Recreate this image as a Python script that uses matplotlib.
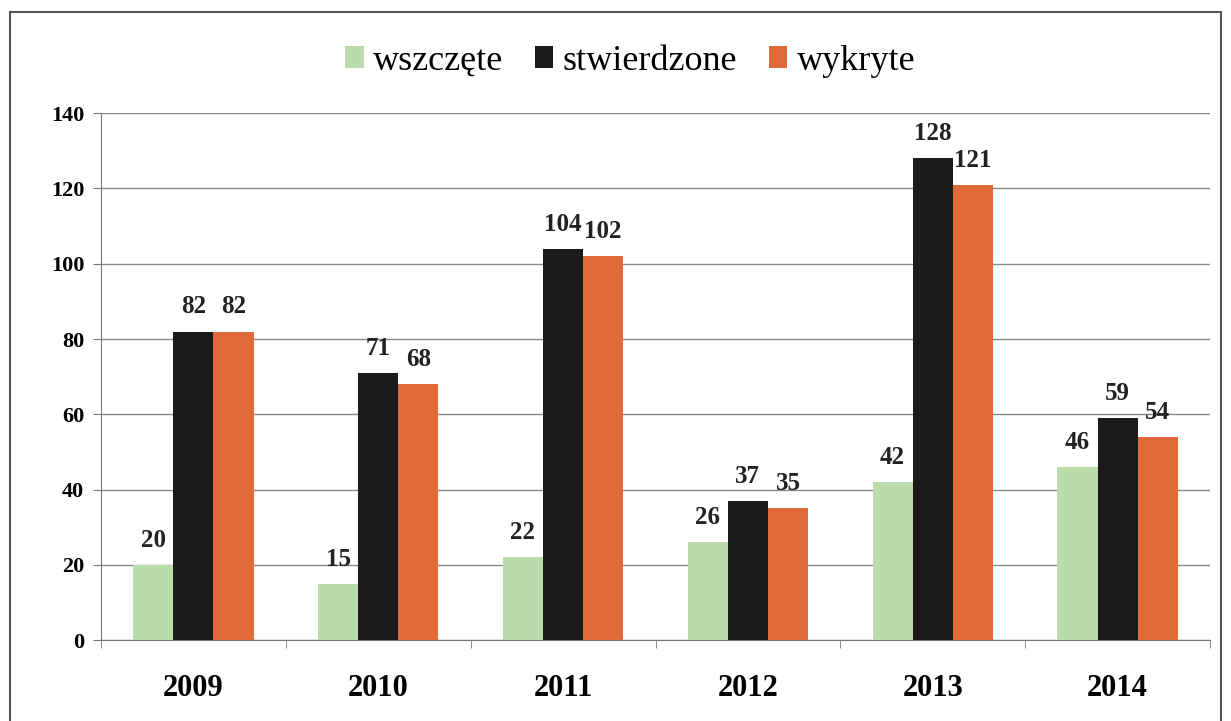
from matplotlib import pyplot as plt
from matplotlib.patches import Rectangle
import numpy as np

lata = ['2009', '2010', '2011', '2012', '2013', '2014']
wszczete = [20, 15, 22, 26, 42, 46]
stwierdzone = [82, 71, 104, 37, 128, 59]
wykryte = [82, 68, 102, 35, 121, 54]

plt.rcParams['font.family'] = ['Liberation Serif', 'DejaVu Serif']

fig = plt.figure(figsize=(12.31, 7.21), dpi=100)
ax = fig.add_axes([0.082, 0.112, 0.901, 0.731])

# ramka wokol calego wykresu
fig.patches.append(Rectangle((0.008, -0.02), 0.984, 1.003, transform=fig.transFigure,
                             fill=False, edgecolor='#555555', linewidth=1.5))

x = np.arange(len(lata))
w = 0.217
serie = [(wszczete, 'wszczęte', '#b9dcaa'),
         (stwierdzone, 'stwierdzone', '#1c1a1a'),
         (wykryte, 'wykryte', '#e2693a')]
for i, (vals, nazwa, kolor) in enumerate(serie):
    pos = x + (i - 1) * w
    ax.bar(pos, vals, width=w, color=kolor, label=nazwa, zorder=3)
    for px, v in zip(pos, vals):
        ax.text(px, v + 3.5, str(v), ha='center', va='bottom', fontsize=18,
                fontweight='bold', color='#222222')

ax.set_xlim(-0.5, 5.5)
ax.set_ylim(0, 140)
ax.set_yticks(range(0, 141, 20))
ax.grid(axis='y', color='#888888', linewidth=1, zorder=0)
ax.set_xticks(x)
ax.set_xticklabels(lata, fontsize=22, fontweight='bold')
ax.set_xticks(np.arange(-0.5, 6, 1), minor=True)
ax.tick_params(axis='x', which='major', length=0, pad=24)
ax.tick_params(axis='x', which='minor', length=6, color='#777777')
ax.tick_params(axis='y', labelsize=16, length=6, color='#777777', pad=6)
for t in ax.get_yticklabels():
    t.set_fontweight('bold')

for s in ['top', 'right']:
    ax.spines[s].set_visible(False)
ax.spines['left'].set_color('#777777')
ax.spines['bottom'].set_color('#777777')

fig.legend(loc='center', bbox_to_anchor=(0.512, 0.915), ncol=3, frameon=False,
           fontsize=26, handlelength=0.5, handleheight=0.55, handletextpad=0.25,
           columnspacing=0.9)

plt.savefig('out.png', dpi=100)
